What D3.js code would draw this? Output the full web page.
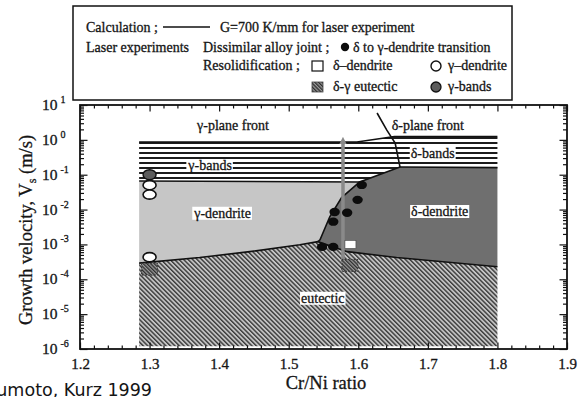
<!DOCTYPE html>
<html lang="en">
<head>
<meta charset="UTF-8">
<title>Cr/Ni ratio - growth velocity map</title>
<script src="https://d3js.org/d3.v7.min.js"></script>
<style>
body{margin:0;background:#fff;}
svg{display:block;}
text{font-family:"Liberation Serif","Times New Roman",serif;fill:#151515;stroke:#151515;stroke-width:0.3;}
.lbl{font-size:14px;}
.tick line{stroke:#111;stroke-width:1.2;}
.domain{display:none;}
</style>
</head>
<body>
<script>
// axis values
var xTicks=[1.2,1.3,1.4,1.5,1.6,1.7,1.8,1.9];
var yDecades=[-6,-5,-4,-3,-2,-1,0,1];

// calculated boundaries, [Cr/Ni, V (m/s)]
var frontTop=[[1.285,0.87],[1.598,0.87],[1.652,1.25],[1.8,1.25]];
var gammaBandLow=[[1.285,0.066],[1.602,0.062]];
var deltaBandLow=[[1.66,0.166],[1.8,0.16]];
var planeSplit=[[1.627,5.9],[1.641,1.9],[1.653,0.81],[1.66,0.166]];
var dendSplit=[[1.66,0.166],[1.602,0.062],[1.576,0.022],[1.559,0.0062],[1.545,0.00135],[1.542,0.0012]];
var eutecticTop=[[1.285,2.9e-4],[1.372,4.2e-4],[1.444,6.2e-4],[1.516,9.8e-4],[1.542,1.2e-3],[1.584,6.2e-4],[1.655,4.2e-4],[1.8,2.3e-4]];
var vFloor=1.2e-6;

// laser experiments
var transitionPts=[[1.605,0.051],[1.599,0.019],[1.584,0.0081],[1.566,0.0085],[1.564,0.0045],[1.548,8.5e-4],[1.564,8.5e-4]];
var gammaDendPts=[[1.3,0.05],[1.3,0.027],[1.3,4.3e-4]];
var gammaBandPts=[[1.3,0.1]];
var deltaDendPts=[[1.588,1.0e-3]];
var eutecticPts=[[1.3,1.95e-4],[1.588,2.5e-4]];
var arrowPts=[[1.578,2.8e-4],[1.578,0.95]];

// region names and where they sit
var regionNames=["γ-plane front","δ-plane front","γ-bands","δ-bands","γ-dendrite","δ-dendrite","eutectic"];
var regionAt=[[1.42,2.7],[1.70,2.7],[1.387,0.19],[1.707,0.42],[1.405,0.0081],[1.717,0.0091],[1.549,2.95e-5]];
var boxed=[false,false,true,true,true,true,true];

var W=578,H=397;
var svg=d3.select("body").append("svg").attr("width",W).attr("height",H);
var x=d3.scaleLinear().domain([1.2,1.9]).range([80,567]);
var y=d3.scaleLog().domain([1e-6,10]).range([349,105]);

var defs=svg.append("defs");
var bands=defs.append("pattern").attr("id","bands").attr("patternUnits","userSpaceOnUse")
  .attr("x",0).attr("y",2).attr("width",10).attr("height",5);
bands.append("rect").attr("width",10).attr("height",5).attr("fill","#fff");
bands.append("rect").attr("width",10).attr("height",2).attr("fill","#1c1c1c");

var hatch=defs.append("pattern").attr("id","hatch").attr("patternUnits","userSpaceOnUse")
  .attr("width",3.2).attr("height",10).attr("patternTransform","rotate(-45)");
hatch.append("rect").attr("width",3.2).attr("height",10).attr("fill","#c4c4c4");
hatch.append("rect").attr("width",1.4).attr("height",10).attr("fill","#3a3a3a");

var hatchDark=defs.append("pattern").attr("id","hatchDark").attr("patternUnits","userSpaceOnUse")
  .attr("width",2.6).attr("height",10).attr("patternTransform","rotate(-45)");
hatchDark.append("rect").attr("width",2.6).attr("height",10).attr("fill","#9a9a9a");
hatchDark.append("rect").attr("width",1.3).attr("height",10).attr("fill","#2e2e2e");

var arrowHead=defs.append("marker").attr("id","ah").attr("viewBox","0 0 10 10")
  .attr("refX",5).attr("refY",5).attr("markerWidth",2.2).attr("markerHeight",2.2)
  .attr("orient","auto");
arrowHead.append("path").attr("d","M0,0L10,5L0,10z").attr("fill","#8a8a8a");

var line=d3.line().x(function(d){return x(d[0]);}).y(function(d){return y(d[1]);});
var poly=function(pts){return line(pts)+"Z";};

// region polygons
var bandPoly=frontTop.concat([[1.8,0.16],[1.66,0.166],[1.602,0.062],[1.285,0.066]]);
var gammaDendPoly=[[1.285,0.066]].concat(dendSplit.slice(1),eutecticTop.slice(0,4).reverse());
var deltaDendPoly=[[1.602,0.062],[1.66,0.166],[1.8,0.16]].concat(eutecticTop.slice(4).reverse(),dendSplit.slice(2,5).reverse());
var eutPoly=eutecticTop.concat([[1.8,vFloor],[1.285,vFloor]]);

svg.append("path").attr("d",poly(bandPoly)).attr("fill","url(#bands)");
svg.append("path").attr("d",poly(gammaDendPoly)).attr("fill","#c6c6c6");
svg.append("path").attr("d",poly(deltaDendPoly)).attr("fill","#6f6f6f");
svg.append("path").attr("d",poly(eutPoly)).attr("fill","url(#hatch)");

// calculated lines
[frontTop,gammaBandLow,deltaBandLow,planeSplit,dendSplit,eutecticTop].forEach(function(b){
  svg.append("path").attr("d",line(b)).attr("fill","none").attr("stroke","#111").attr("stroke-width",1.6);
});

// region labels
regionNames.forEach(function(n,i){
  var g=svg.append("g");
  var t=g.append("text").attr("class","lbl").attr("x",x(regionAt[i][0])).attr("y",y(regionAt[i][1])+5)
    .attr("text-anchor","middle").text(n);
  if(boxed[i]){
    var bb=t.node().getBBox();
    g.insert("rect","text").attr("x",bb.x-1).attr("y",bb.y+1).attr("width",bb.width+2).attr("height",bb.height-2).attr("fill","#fff");
  }
});

// grey arrow
svg.append("path").attr("d",line(arrowPts)).attr("stroke","#8a8a8a").attr("stroke-width",3.5)
  .attr("fill","none").attr("marker-end","url(#ah)");

// markers
svg.selectAll(".eut").data(eutecticPts).enter().append("rect")
  .attr("x",function(d){return x(d[0])-8;}).attr("y",function(d){return y(d[1])-6;})
  .attr("width",16).attr("height",12).attr("fill","url(#hatchDark)")
  .attr("stroke","#333").attr("stroke-width",1).attr("stroke-dasharray","1.5,1.5");
svg.selectAll(".dsq").data(deltaDendPts).enter().append("rect")
  .attr("x",function(d){return x(d[0])-5;}).attr("y",function(d){return y(d[1])-4;})
  .attr("width",11).attr("height",8).attr("fill","#fff").attr("stroke","#444").attr("stroke-width",0.6);
svg.selectAll(".gc").data(gammaDendPts).enter().append("ellipse")
  .attr("cx",function(d){return x(d[0]);}).attr("cy",function(d){return y(d[1]);})
  .attr("rx",6.5).attr("ry",4.6).attr("fill","#fff").attr("stroke","#111").attr("stroke-width",1.6);
svg.selectAll(".gb").data(gammaBandPts).enter().append("ellipse")
  .attr("cx",function(d){return x(d[0]);}).attr("cy",function(d){return y(d[1]);})
  .attr("rx",6.5).attr("ry",5).attr("fill","#5c5c5c").attr("stroke","#111").attr("stroke-width",1.4);
svg.selectAll(".tr").data(transitionPts).enter().append("ellipse")
  .attr("cx",function(d){return x(d[0]);}).attr("cy",function(d){return y(d[1]);})
  .attr("rx",5.2).attr("ry",4.2).attr("fill","#0c0c0c");

// axes, ticks inward
var xMinor=d3.range(1.2,1.9001,0.02).filter(function(v){return Math.abs(v*10-Math.round(v*10))>1e-6;});
var yMinor=[];
yDecades.slice(0,-1).forEach(function(e){for(var k=2;k<10;k++)yMinor.push(k*Math.pow(10,e));});
var yMajor=yDecades.map(function(e){return Math.pow(10,e);});

svg.append("g").attr("transform","translate(0,349)").call(d3.axisBottom(x).tickValues(xMinor).tickSize(-3.5).tickFormat(""));
svg.append("g").attr("transform","translate(0,105)").call(d3.axisTop(x).tickValues(xMinor).tickSize(-3.5).tickFormat(""));
svg.append("g").attr("transform","translate(0,105)").call(d3.axisTop(x).tickValues(xTicks).tickSize(-6.5).tickFormat(""));
var xb=svg.append("g").attr("transform","translate(0,349)")
  .call(d3.axisBottom(x).tickValues(xTicks).tickSize(-6.5).tickPadding(9).tickFormat(d3.format(".1f")));
xb.selectAll("text").attr("font-size",15).attr("font-family","Liberation Serif");

[[80,d3.axisLeft],[567,d3.axisRight]].forEach(function(a){
  svg.append("g").attr("transform","translate("+a[0]+",0)").call(a[1](y).tickValues(yMinor).tickSize(-4).tickFormat(""));
  svg.append("g").attr("transform","translate("+a[0]+",0)").call(a[1](y).tickValues(yMajor).tickSize(-7.5).tickFormat(""));
});

svg.append("rect").attr("x",80).attr("y",105).attr("width",487).attr("height",244)
  .attr("fill","none").attr("stroke","#111").attr("stroke-width",1.8);

// y tick labels 10^n
var yl=svg.selectAll(".ylab").data(yDecades).enter().append("text")
  .attr("x",42).attr("y",function(e){return y(Math.pow(10,e))+5;}).attr("font-size",15.5);
yl.append("tspan").text("10");
yl.append("tspan").attr("dx",3).attr("dy",-7).attr("font-size",10).text(function(e){return String(e);});

// axis titles
var yt=svg.append("text").attr("transform","translate(32,230) rotate(-90)").attr("text-anchor","middle").attr("font-size",18.5);
yt.append("tspan").text("Growth velocity, V");
yt.append("tspan").attr("font-size",12).attr("dy",4).text("s");
yt.append("tspan").attr("dy",-4).text(" (m/s)");
svg.append("text").attr("x",326).attr("y",389).attr("text-anchor","middle").attr("font-size",18.5).text("Cr/Ni ratio");

// source note, cut at the left edge as in the scan
svg.append("text").attr("x",152).attr("y",396).attr("text-anchor","end")
  .style("font-family","'DejaVu Sans',sans-serif").style("stroke-width",0).attr("font-size",17.5).attr("fill","#333").text("Fukumoto, Kurz 1999");

// legend
var lg=svg.append("g");
lg.append("rect").attr("x",73).attr("y",6).attr("width",439).attr("height",94).attr("fill","#fff").attr("stroke","#111").attr("stroke-width",1.5);
var lt=function(s,px,py){lg.append("text").attr("class","lbl").attr("x",px).attr("y",py).text(s);};
lt("Calculation ;",86,32);
lg.append("line").attr("x1",163).attr("x2",210).attr("y1",27).attr("y2",27).attr("stroke","#111").attr("stroke-width",1.5);
lt("G=700 K/mm for laser experiment",220,32);
lt("Laser experiments",86,52);
lt("Dissimilar alloy joint ;",203,52);
lg.append("ellipse").attr("cx",345).attr("cy",47).attr("rx",4.2).attr("ry",4.2).attr("fill","#0c0c0c");
lt("δ to γ-dendrite transition",353,52);
lt("Resolidification ;",203,70);
lg.append("rect").attr("x",312).attr("y",61).attr("width",11).attr("height",10).attr("fill","#fff").attr("stroke","#111").attr("stroke-width",1.2);
lt("δ–dendrite",333,70);
lg.append("ellipse").attr("cx",436).attr("cy",66).attr("rx",5).attr("ry",5).attr("fill","#fff").attr("stroke","#111").attr("stroke-width",1.4);
lt("γ–dendrite",448,70);
lg.append("rect").attr("x",312).attr("y",82).attr("width",11).attr("height",10).attr("fill","url(#hatchDark)").attr("stroke","#444").attr("stroke-width",0.8);
lt("δ-γ eutectic",333,91);
lg.append("ellipse").attr("cx",436).attr("cy",87).attr("rx",5).attr("ry",5).attr("fill","#5c5c5c").attr("stroke","#111").attr("stroke-width",1.3);
lt("γ-bands",448,91);
</script>
</body>
</html>
